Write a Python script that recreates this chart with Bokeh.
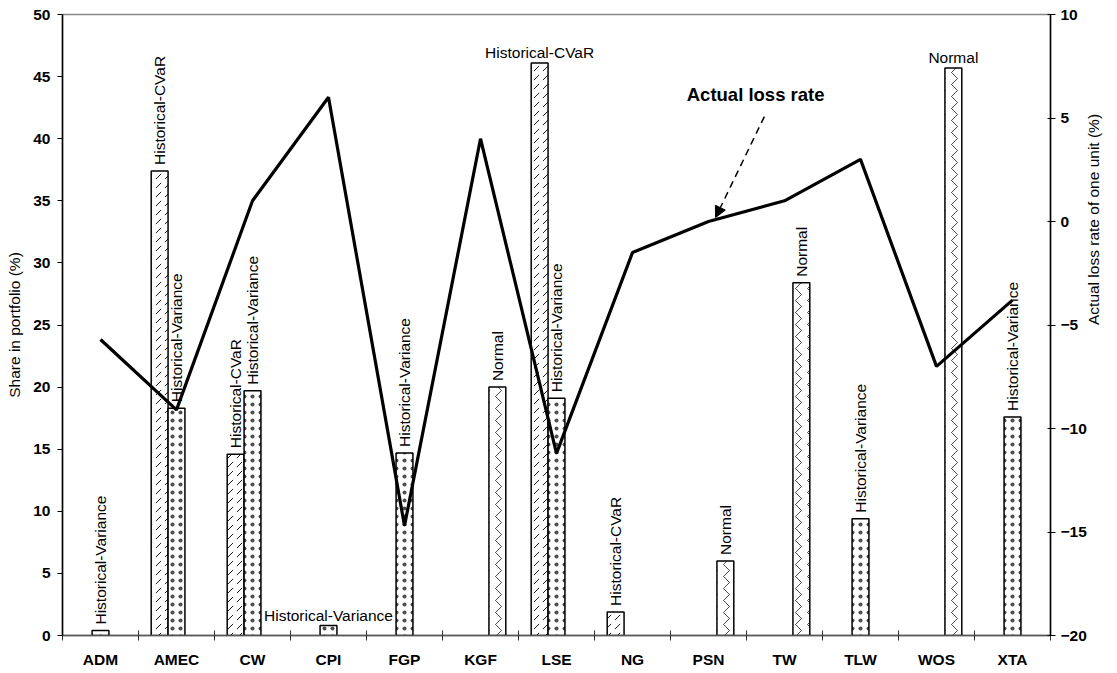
import math
import numpy as np
from bokeh.plotting import figure
from bokeh.models import Range1d, LinearAxis, FixedTicker, Arrow, NormalHead, Label, ColumnDataSource
from bokeh.core.properties import value
from bokeh.embed import file_html
from bokeh.resources import INLINE

nan = float("nan")

# ---------------- data ----------------
categories = ["ADM", "AMEC", "CW", "CPI", "FGP", "KGF", "LSE", "NG", "PSN", "TW", "TLW", "WOS", "XTA"]
series_names = ["Historical-CVaR", "Historical-Variance", "Normal"]
share_cvar = [nan, 37.4, 14.6, nan, nan, nan, 46.1, 1.9, nan, nan, nan, nan, nan]
share_variance = [0.4, 18.3, 19.7, 0.8, 14.7, nan, 19.1, nan, nan, nan, 9.4, nan, 17.6]
share_normal = [nan, nan, nan, nan, nan, 20.0, nan, nan, 6.0, 28.4, nan, 45.7, nan]
loss_rate = [-5.7, -9.1, 1.0, 6.0, -14.7, 4.0, -11.2, -1.5, 0.0, 1.0, 3.0, -7.0, -3.8]
left_ticks = [0, 5, 10, 15, 20, 25, 30, 35, 40, 45, 50]
right_ticks = [-20, -15, -10, -5, 0, 5, 10]
annotation_text = "Actual loss rate"
annotation_pos = (9.12, 6.13)       # (category units, loss %)
arrow_from = (9.235, 5.07)
arrow_to = (8.593, 0.19)

# ---------------- styling ----------------
FONT_NAME = "Liberation Sans"
FONT = value(FONT_NAME)
n = len(categories)
bar_w = 0.222
offsets = [-bar_w, 0.0, bar_w]
# (pattern, scale, weight, alpha)
hatches = [(",", 9, 0.9, 1.0), (".", 8, 0.1, 0.7), (">", 12, 0.7, 1.0)]
# labels drawn horizontally above the bar: (category, series)
horizontal_labels = {("CPI", "Historical-Variance"), ("LSE", "Historical-CVaR"), ("WOS", "Normal")}

p = figure(width=1113, height=670,
           x_range=Range1d(0, n), y_range=Range1d(left_ticks[0], left_ticks[-1]),
           output_backend="svg", toolbar_location=None,
           min_border_left=62, min_border_top=14, min_border_right=0, min_border_bottom=0)
p.extra_y_ranges = {"loss": Range1d(right_ticks[0], right_ticks[-1])}
p.grid.visible = False
p.outline_line_color = "#888888"
p.outline_line_width = 1.5
p.background_fill_color = "white"
p.border_fill_color = "white"

centers = np.arange(n) + 0.5
series_vals = [share_cvar, share_variance, share_normal]

lab_x, lab_y, lab_t = [], [], []
hl_x, hl_y, hl_t = [], [], []
for name, vals, off, (hatch, hscale, hweight, halpha) in zip(series_names, series_vals, offsets, hatches):
    xs, tops = [], []
    for i, v in enumerate(vals):
        if not math.isnan(v):
            xs.append(centers[i] + off)
            tops.append(v)
            if (categories[i], name) in horizontal_labels:
                hl_x.append(centers[i] + off); hl_y.append(v); hl_t.append(name)
            else:
                lab_x.append(centers[i] + off); lab_y.append(v); lab_t.append(name)
    src = ColumnDataSource(dict(x=xs, top=tops))
    p.vbar(x="x", top="top", bottom=0, width=bar_w, source=src,
           fill_color="white", line_color="black", line_width=1.5,
           hatch_pattern=hatch, hatch_color="black", hatch_scale=hscale,
           hatch_weight=hweight, hatch_alpha=halpha)

# rotated labels
p.text(x=lab_x, y=lab_y, text=lab_t, angle=math.pi / 2, text_align="left",
       text_baseline="middle", y_offset=-6, text_font=FONT, text_font_size="15.5px",
       text_color="black")
# horizontal labels
p.text(x=hl_x, y=hl_y, text=hl_t, text_align="center", text_baseline="alphabetic",
       y_offset=-10, text_font=FONT, text_font_size="15.5px", text_color="black")

# loss line
p.line(x=centers, y=loss_rate, y_range_name="loss", line_color="black", line_width=3.2)

# annotation
p.add_layout(Label(x=annotation_pos[0], y=annotation_pos[1], y_range_name="loss",
                   text=annotation_text, text_font=FONT_NAME, text_font_style="bold",
                   text_font_size="18.5px", text_align="center", text_baseline="middle",
                   text_color="black"))
p.add_layout(Arrow(end=NormalHead(size=11, fill_color="black", line_color="black"),
                   x_start=arrow_from[0], y_start=arrow_from[1],
                   x_end=arrow_to[0], y_end=arrow_to[1], y_range_name="loss",
                   line_color="black", line_width=1.5, line_dash="7 5"))

# x axis
xa = p.xaxis[0]
xa.ticker = FixedTicker(ticks=list(centers), minor_ticks=list(range(n + 1)))
xa.major_label_overrides = {float(c): cat for c, cat in zip(centers, categories)}
xa.major_tick_out = 0
xa.major_tick_in = 0
xa.minor_tick_out = 5
xa.minor_tick_in = 5
xa.minor_tick_line_color = "#333333"
xa.axis_line_color = "#555555"
xa.axis_line_width = 1.5
xa.major_label_standoff = 10
xa.major_label_text_font = FONT_NAME
xa.major_label_text_font_style = "bold"
xa.major_label_text_font_size = "15.5px"
xa.major_label_text_color = "black"

# left axis
ya = p.yaxis[0]
ya.ticker = FixedTicker(ticks=left_ticks, minor_ticks=[])
ya.axis_label = "Share in portfolio (%)"
ya.axis_label_text_font = FONT_NAME
ya.axis_label_text_font_style = "normal"
ya.axis_label_text_font_size = "15.5px"
ya.axis_label_text_color = "black"
ya.axis_label_standoff = 7
ya.major_tick_out = 5
ya.major_tick_in = 0
ya.major_label_standoff = 7
ya.major_label_text_font = FONT_NAME
ya.major_label_text_font_style = "bold"
ya.major_label_text_font_size = "15.5px"
ya.major_label_text_color = "black"
ya.axis_line_width = 1.5
ya.axis_line_color = "black"

# right axis
ra = LinearAxis(y_range_name="loss", ticker=FixedTicker(ticks=right_ticks, minor_ticks=[]))
ra.axis_label = "Actual loss rate of one unit (%)"
ra.axis_label_orientation = math.pi / 2
ra.axis_label_text_font = FONT_NAME
ra.axis_label_text_font_style = "normal"
ra.axis_label_text_font_size = "15.5px"
ra.axis_label_text_color = "black"
ra.axis_label_standoff = 4
ra.major_tick_out = 5
ra.major_tick_in = 3
ra.major_label_standoff = 5
ra.major_label_text_font = FONT_NAME
ra.major_label_text_font_style = "bold"
ra.major_label_text_font_size = "15.5px"
ra.major_label_text_color = "black"
ra.axis_line_width = 1.5
ra.axis_line_color = "black"
p.add_layout(ra, "right")

open("out.html", "w").write(file_html(p, INLINE))
